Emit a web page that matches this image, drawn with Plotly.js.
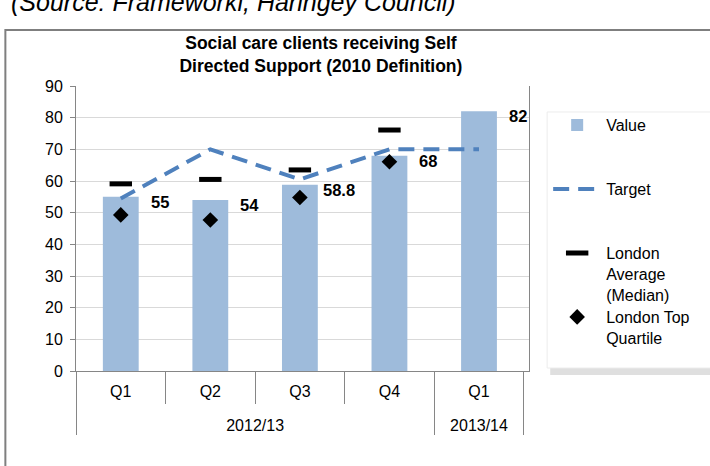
<!DOCTYPE html>
<html>
<head>
<meta charset="utf-8">
<script src="https://cdn.plot.ly/plotly-3.0.1.min.js"></script>
<style>html,body{margin:0;padding:0;background:#fff;}#chart{width:710px;height:466px;}</style>
</head>
<body>
<div id="chart"></div>
<script>
// ---- data ----
const years = ["2012/13", "2012/13", "2012/13", "2012/13", "2013/14"];
const quarters = ["Q1", "Q2", "Q3", "Q4", "Q1"];
const values = [55, 54, 58.8, 68, 82];
const target = [54.5, 70, 60.5, 70, 70];
const londonAverage = [59.1, 60.5, 63.5, 76.1];
const londonTopQuartile = [49.3, 47.7, 54.8, 66.1];
const valueLabels = ["55", "54", "58.8", "68", "82"];
const yTicks = [0, 10, 20, 30, 40, 50, 60, 70, 80, 90];

const FONT = "Liberation Sans, Arial, sans-serif";
// inner labels get an empty second line so the year row sits lower, as in the reference
const quarterLabels = quarters.map(q => q + "<br>\u00a0");
const x = [years, quarterLabels];
const xSub = [years.slice(0, 4), quarterLabels.slice(0, 4)];

const traces = [
  {type: "bar", name: "Value", x: x, y: values, width: 0.4,
   marker: {color: "#9ebbdb"}, legend: "legend", hoverinfo: "skip"},
  {type: "scatter", mode: "lines", name: "Target", x: x, y: target,
   line: {color: "#4f81bd", width: 4, dash: "16px,9px"}, legend: "legend2"},
  {type: "scatter", mode: "markers", name: "London<br>Average<br>(Median)", x: xSub, y: londonAverage,
   marker: {symbol: "line-ew", size: 16, color: "#000", line: {width: 5, color: "#000"}}, legend: "legend3"},
  {type: "scatter", mode: "markers", name: "London Top<br>Quartile", x: xSub, y: londonTopQuartile,
   marker: {symbol: "diamond", size: 12, color: "#000"}, legend: "legend4"}
];

const annotations = values.map((v, i) => ({
  x: i, y: v, xref: "x", yref: "y", text: "<b>" + valueLabels[i] + "</b>",
  showarrow: false, xanchor: "center", yanchor: "middle", xshift: 39, yshift: -5,
  font: {family: FONT, size: 16.5, color: "#000"}
}));
annotations.push({
  xref: "paper", yref: "paper", x: -0.148, y: 1.238, xanchor: "left", yanchor: "bottom",
  text: "<i>(Source: Frameworkl, Haringey Council)</i>", showarrow: false,
  font: {family: FONT, size: 25, color: "#000"}
});

function leg(y) {
  return {x: 1.0423, y: y, xanchor: "left", yanchor: "top", bgcolor: "rgba(0,0,0,0)",
          font: {family: FONT, size: 16, color: "#000"}, valign: "top", itemwidth: 48};
}

const layout = {
  width: 710, height: 466,
  margin: {l: 76, r: 181, t: 86, b: 95, autoexpand: false},
  paper_bgcolor: "#fff", plot_bgcolor: "#fff",
  font: {family: FONT, size: 16, color: "#000"},
  title: {text: "<b>Social care clients receiving Self<br>Directed Support (2010 Definition)</b>",
          xref: "container", yref: "container", x: 0.452, y: 0.895, xanchor: "center", yanchor: "middle",
          font: {family: FONT, size: 17.5, color: "#000"}},
  showlegend: true,
  legend: leg(0.9228),
  legend2: leg(0.6982),
  legend3: leg(0.4737),
  legend4: leg(0.2491),
  xaxis: {type: "multicategory", showline: true, linecolor: "#868686", linewidth: 1,
          ticks: "outside", ticklen: 32, tickcolor: "#868686", ticklabelstandoff: 6,
          showdividers: true, dividercolor: "#868686", dividerwidth: 1,
          tickfont: {family: FONT, size: 16, color: "#000"}, showgrid: false},
  yaxis: {range: [0, 90], tickvals: yTicks, ticks: "outside", ticklen: 5, tickcolor: "#868686",
          showline: true, linecolor: "#868686", linewidth: 1, mirror: true,
          gridcolor: "#d9d9d9", zeroline: false, ticklabelstandoff: 4,
          tickfont: {family: FONT, size: 16, color: "#000"}},
  annotations: annotations,
  shapes: [
    {type: "rect", xref: "paper", yref: "paper", x0: -0.1559, x1: 1.44, y0: -0.40, y1: 1.1965,
     line: {color: "#7f7f7f", width: 2}, fillcolor: "rgba(0,0,0,0)", layer: "below"},
    {type: "rect", xref: "paper", yref: "paper", x0: 1.0468, x1: 1.43, y0: -0.014, y1: 0.895,
     line: {width: 0}, fillcolor: "rgba(150,150,150,0.3)", layer: "above"},
    {type: "rect", xref: "paper", yref: "paper", x0: 1.040, x1: 1.43, y0: 0.0105, y1: 0.9088,
     line: {color: "#ececec", width: 1}, fillcolor: "#fff", layer: "above"}
  ]
};

Plotly.newPlot("chart", traces, layout, {displayModeBar: false, staticPlot: true});
</script>
</body>
</html>
